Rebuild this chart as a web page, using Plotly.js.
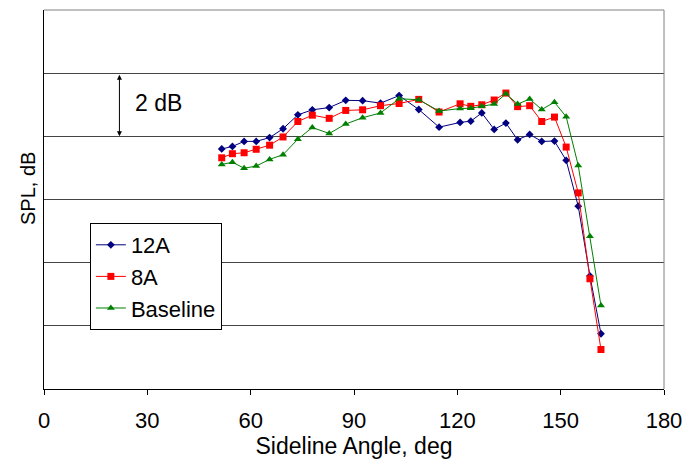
<!DOCTYPE html>
<html>
<head>
<meta charset="utf-8">
<script src="https://cdn.plot.ly/plotly-3.0.1.min.js"></script>
<style>html,body{margin:0;padding:0;background:#fff;}#chart{width:685px;height:459px;}</style>
</head>
<body>
<div id="chart"></div>
<script>
const angle = [51.6, 54.7, 58.1, 61.6, 65.5, 69.4, 73.7, 77.9, 82.8, 87.6, 92.5, 97.7, 103.1, 108.8, 114.7, 120.8, 123.9, 127.1, 130.7, 134.1, 137.5, 141.0, 144.5, 148.2, 151.6, 155.1, 158.5, 161.7];
const spl12A = [7.60, 7.68, 7.84, 7.84, 7.96, 8.24, 8.68, 8.84, 8.91, 9.14, 9.13, 9.05, 9.29, 8.85, 8.29, 8.44, 8.48, 8.74, 8.22, 8.42, 7.89, 8.06, 7.84, 7.85, 7.24, 5.79, 3.58, 1.75];
const spl8A = [7.32, 7.45, 7.48, 7.59, 7.72, 7.98, 8.47, 8.67, 8.57, 8.82, 8.84, 8.97, 9.04, 9.17, 8.77, 9.03, 8.95, 9.00, 9.15, 9.37, 8.94, 8.97, 8.47, 8.61, 7.66, 6.21, 3.49, 1.25];
const splBaseline = [7.11, 7.18, 6.99, 7.06, 7.27, 7.42, 7.91, 8.28, 8.09, 8.39, 8.59, 8.74, 9.19, 9.16, 8.80, 8.88, 8.89, 8.95, 9.02, 9.35, 9.02, 9.18, 8.85, 9.08, 8.62, 7.08, 4.84, 2.64];
const xTicks = [0, 30, 60, 90, 120, 150, 180];

const fam = 'Liberation Sans, Arial, sans-serif';
const font = {family: fam, size: 23, color: '#000'};

const traces = [
  {x: angle, y: spl12A, name: '12A', mode: 'lines+markers', type: 'scatter',
   line: {color: '#000080', width: 1}, marker: {symbol: 'diamond', size: 6, color: '#000080'}},
  {x: angle, y: spl8A, name: '8A', mode: 'lines+markers', type: 'scatter',
   line: {color: '#FF0000', width: 1}, marker: {symbol: 'square', size: 7, color: '#FF0000'}},
  {x: angle, y: splBaseline, name: 'Baseline', mode: 'lines+markers', type: 'scatter',
   line: {color: '#008000', width: 1}, marker: {symbol: 'triangle-up', size: 7, color: '#008000'}}
];

const layout = {
  width: 685, height: 459,
  margin: {l: 44, r: 21, t: 10, b: 70},
  paper_bgcolor: '#fff', plot_bgcolor: '#fff',
  font: font,
  showlegend: true,
  legend: {x: 0.074, y: 0.438, xanchor: 'left', yanchor: 'top',
    bgcolor: '#fff', bordercolor: '#000', borderwidth: 1,
    font: {family: fam, size: 22, color: '#000'},
    tracegroupgap: 0, itemwidth: 30},
  xaxis: {range: [0, 180], tickvals: xTicks, ticktext: xTicks.map(String),
    tickfont: {family: fam, size: 22, color: '#000'},
    ticks: 'outside', ticklen: 5, tickcolor: '#000', showgrid: false, zeroline: false,
    showline: true, linecolor: '#000', linewidth: 1, ticklabelstandoff: 7,
    title: {text: 'Sideline Angle, deg', font: font, standoff: 1}},
  yaxis: {range: [0, 12], dtick: 2, tick0: 0, showticklabels: false, ticks: '',
    showgrid: true, gridcolor: '#444', gridwidth: 1, zeroline: false,
    showline: true, linecolor: '#000', linewidth: 1},
  shapes: [
    {type: 'line', xref: 'paper', yref: 'paper', x0: 0, x1: 1, y0: 1, y1: 1, line: {color: '#808080', width: 1}},
    {type: 'line', xref: 'paper', yref: 'paper', x0: 1, x1: 1, y0: 0, y1: 1, line: {color: '#808080', width: 1}}
  ],
  annotations: [
    {x: 21.9, y: 8, ax: 21.9, ay: 10, xref: 'x', yref: 'y', axref: 'x', ayref: 'y',
     text: '', showarrow: true, arrowhead: 2, arrowsize: 1, arrowwidth: 1, arrowcolor: '#000', arrowside: 'end+start'},
    {x: 25.9, y: 9.05, xref: 'x', yref: 'y', text: '2 dB', showarrow: false, xanchor: 'left', font: font},
    {x: -0.026, y: 0.53, xref: 'paper', yref: 'paper', text: 'SPL, dB', textangle: -90, showarrow: false,
     xanchor: 'center', yanchor: 'middle', font: {family: fam, size: 20, color: '#000'}}
  ]
};

Plotly.newPlot('chart', traces, layout, {displayModeBar: false, staticPlot: true});
</script>
</body>
</html>
